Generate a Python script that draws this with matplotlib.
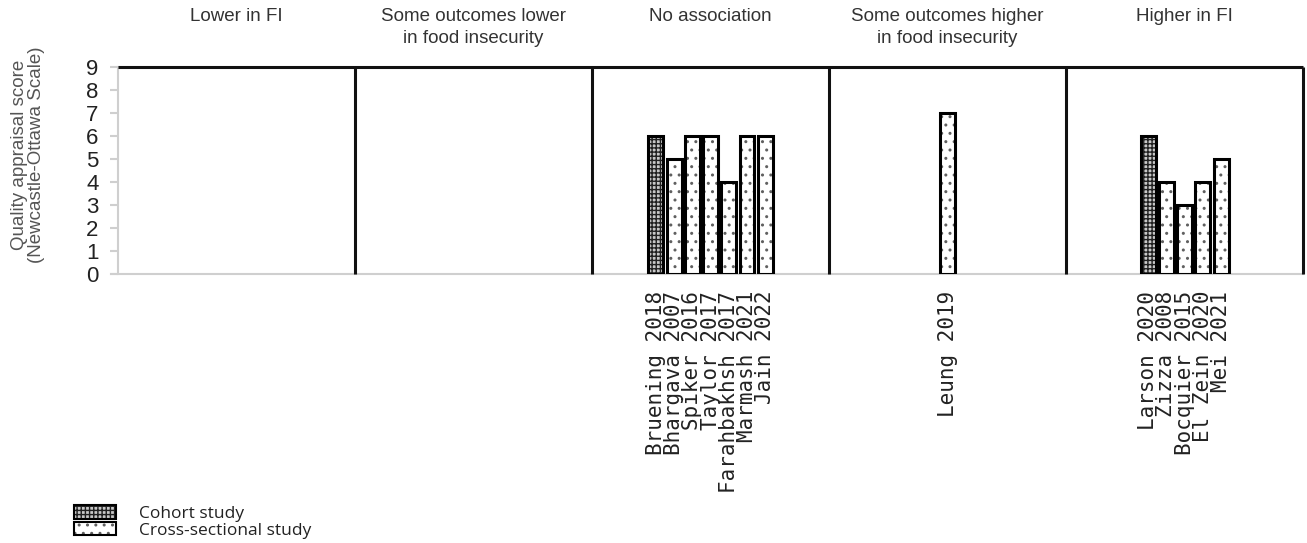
import numpy as np
import matplotlib.pyplot as plt
from matplotlib.patches import Rectangle
from matplotlib.legend_handler import HandlerTuple

# group headers
groups = ["Lower in FI",
          "Some outcomes lower\nin food insecurity",
          "No association",
          "Some outcomes higher\nin food insecurity",
          "Higher in FI"]

# studies per group (index of group), score and design
studies = ["Bruening 2018", "Bhargava 2007", "Spiker 2016", "Taylor 2017",
           "Farahbakhsh 2017", "Marmash 2021", "Jain 2022",
           "Leung 2019",
           "Larson 2020", "Zizza 2008", "Bocquier 2015", "El Zein 2020", "Mei 2021"]
study_group = [2, 2, 2, 2, 2, 2, 2, 3, 4, 4, 4, 4, 4]
scores = [6, 5, 6, 6, 4, 6, 6, 7, 6, 4, 3, 4, 5]
design = ["Cohort", "Cross", "Cross", "Cross", "Cross", "Cross", "Cross",
          "Cross",
          "Cohort", "Cross", "Cross", "Cross", "Cross"]

slots = 13  # slot units per group
xs = []
for g in range(len(groups)):
    idx = [i for i, sg in enumerate(study_group) if sg == g]
    n = len(idx)
    for k, i in enumerate(idx):
        xs.append((i, g * slots + slots / 2 + (k - (n - 1) / 2)))
xs = [x for _, x in sorted(xs)]

styles = {
    "Cohort": dict(facecolor="#c8c8c8", hatch="++++", hcolor="#202020"),
    "Cross": dict(facecolor="white", hatch="..", hcolor="#606060"),
}

fig = plt.figure(figsize=(13.07, 5.43), dpi=100)
ax = fig.add_axes([0.0903, 0.4954, 0.9067, 0.3812])

for x, s, d in zip(xs, scores, design):
    st = styles[d]
    ax.bar(x, s, width=0.82, color=st["facecolor"], hatch=st["hatch"],
           edgecolor=st["hcolor"], linewidth=0, zorder=2)
    ax.bar(x, s, width=0.82, fill=False, edgecolor="black", linewidth=2.2, zorder=3)

ax.set_xlim(0, slots * len(groups))
ax.set_ylim(0, 9)
ax.set_yticks(range(10))
ax.set_xticks(xs)
ax.set_xticklabels(studies, rotation=90, family="DejaVu Sans Mono", fontsize=15,
                   color="#222222")
ax.tick_params(axis="x", length=0, pad=12)
ax.tick_params(axis="y", length=6, width=1.5, color="#cfcfcf", labelsize=16,
               labelcolor="#222222", pad=8, labelfontfamily="Liberation Sans")

for sp in ["top", "right"]:
    ax.spines[sp].set_visible(False)
for sp in ["left", "bottom"]:
    ax.spines[sp].set_color("#cfcfcf")
    ax.spines[sp].set_linewidth(1.5)
ax.spines["bottom"].set_bounds(-0.4, slots * len(groups))

# black frame: top line and group dividers
ax.hlines(9, 0, slots * len(groups), color="#111111", linewidth=2.2, clip_on=False, zorder=4)
ax.vlines([slots * g for g in range(1, len(groups) + 1)], 0, 9, color="#111111",
          linewidth=2.2, clip_on=False, zorder=4)

for g, name in enumerate(groups):
    ax.text(g * slots + slots / 2, 1.285, name, transform=ax.get_xaxis_transform(),
            ha="center", va="top", fontsize=13.5, color="#333333",
            family="Liberation Sans", linespacing=1.4)

ax.set_ylabel("Quality appraisal score\n(Newcastle-Ottawa Scale)", fontsize=13.5,
              color="#555555", family="Liberation Sans", linespacing=1.0)
ax.yaxis.set_label_coords(-0.062, 0.575)

# legend
def handle(d):
    st = styles[d]
    return (Rectangle((0, 0), 1, 1, facecolor=st["facecolor"], hatch=st["hatch"],
                      edgecolor=st["hcolor"], linewidth=0),
            Rectangle((0, 0), 1, 1, fill=False, edgecolor="black", linewidth=1.5))

fig.legend([handle("Cohort"), handle("Cross")], ["Cohort study", "Cross-sectional study"],
           handler_map={tuple: HandlerTuple(ndivide=1, pad=0)},
           loc="lower left", bbox_to_anchor=(0.045, -0.021), frameon=False,
           prop={"family": "Open Sans", "size": 12.5}, handlelength=2.4, handleheight=0.8,
           labelspacing=0.0, handletextpad=1.3, labelcolor="#222222")

fig.savefig("out.png", dpi=100)
